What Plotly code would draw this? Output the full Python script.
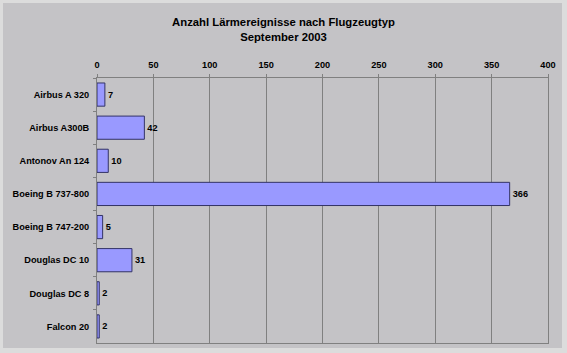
import plotly.graph_objects as go

categories = ["Airbus A 320", "Airbus A300B", "Antonov An 124", "Boeing B 737-800",
              "Boeing B 747-200", "Douglas DC 10", "Douglas DC 8", "Falcon 20"]
values = [7, 42, 10, 366, 5, 31, 2, 2]
x_ticks = [0, 50, 100, 150, 200, 250, 300, 350, 400]

font = "Liberation Sans, Arial, sans-serif"
fs = 9.2

fig = go.Figure(go.Bar(
    y=categories, x=values, orientation="h",
    marker=dict(color="#9999FF", line=dict(color="#333366", width=1)),
    text=[f"<b>{v}</b>" for v in values], textposition="outside",
    textfont=dict(family=font, size=fs, color="#000000"),
    cliponaxis=False,
))

L, R, T, B = 97, 19, 78, 10
PW, PH = 567 - L - R, 353 - T - B

fig.update_layout(
    width=567, height=353,
    margin=dict(l=L, r=R, t=T, b=B),
    paper_bgcolor="#DCDCDC", plot_bgcolor="#FFFFFF",
    title=dict(text="<b>Anzahl Lärmereignisse nach Flugzeugtyp<br>September 2003</b>",
               x=0.5, xanchor="center", y=1 - 26 / 353, yanchor="middle",
               font=dict(family=font, size=11.3, color="#000000")),
    bargap=0.3,
    showlegend=False,
    xaxis=dict(side="top", range=[0, 400], tickvals=x_ticks,
               ticktext=[f"<b>{t}</b>" for t in x_ticks],
               showgrid=True, gridcolor="#808080", gridwidth=1,
               showline=True, linecolor="#808080", ticks="outside", ticklen=3, tickcolor="#808080",
               tickfont=dict(family=font, size=fs, color="#000000"), zeroline=False,
               mirror=True, automargin=False, ticklabelstandoff=2),
    yaxis=dict(autorange="reversed", showline=True, linecolor="#808080", mirror=True,
               ticks="outside", ticklen=3, tickcolor="#808080", tickson="boundaries",
               tickfont=dict(family=font, size=fs, color="#000000"),
               ticklabelstandoff=5, automargin=False),
)
fig.update_yaxes(tickprefix="<b>", ticksuffix="</b>")
# gray chart area inside lighter outer frame
fig.add_shape(type="rect", xref="paper", yref="paper", layer="below",
              x0=-(L - 3) / PW, x1=1 + (R - 5) / PW,
              y0=-(B - 5) / PH, y1=1 + (T - 3) / PH,
              fillcolor="#C4C3C6", line=dict(width=0))

fig.write_html("out.html")
